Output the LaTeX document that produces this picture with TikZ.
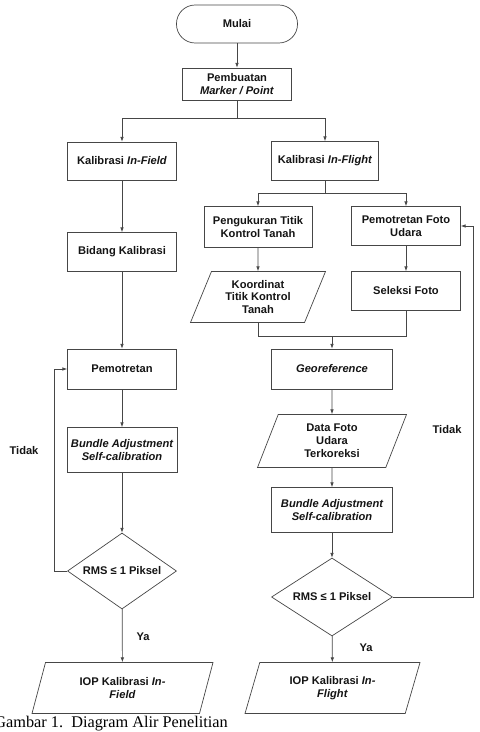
\documentclass[tikz,border=0pt]{standalone}
\usepackage{fontspec}
\setmainfont{Liberation Sans}
\newfontfamily\captionserif{Liberation Serif}
\usepackage{tikz}
\usetikzlibrary{positioning, arrows.meta, calc, shapes.geometric}
\definecolor{alirgaris}{RGB}{70,70,70}
\definecolor{alirteks}{RGB}{20,20,20}

\begin{document}
\begin{tikzpicture}[x=0.03cm, y=-0.03cm,
    every node/.style={font=\fontsize{9.5}{11}\selectfont\bfseries, text=alirteks, align=center},
    proses/.style={draw=alirgaris, line width=0.6pt, rectangle, inner sep=1pt, minimum width=3.27cm, minimum height=1.17cm},
    data/.style={draw=alirgaris, line width=0.6pt, trapezium, trapezium left angle=60, trapezium right angle=120, trapezium stretches body, inner sep=1pt, minimum height=1.53cm},
    keputusan/.style={draw=alirgaris, line width=0.6pt, diamond, shape aspect=1.43, inner sep=0pt},
    panah/.style={draw=alirgaris, line width=0.6pt, -{Latex[length=4pt, width=3pt]}},
    garis/.style={draw=alirgaris, line width=0.6pt}]
        \useasboundingbox (0,0) rectangle (480,732);
        % awal
        \node[draw=alirgaris, line width=0.6pt, rounded corners=0.56cm, minimum width=3.63cm, minimum height=1.14cm] (mulai) at (237,24) {Mulai};
        \node[proses, minimum height=0.96cm] (pembuatan) at (237,84) {Pembuatan\\ \textit{Marker / Point}};
        \coordinate (cabang1) at (237,118);
        \draw[panah] (mulai) -- (pembuatan);
        % jalur in-field
        \node[proses, minimum height=1.14cm] (infield) at (122,161) {Kalibrasi \textit{In-Field}};
        \node[proses] (bidang) at (122,252) {Bidang Kalibrasi};
        \node[proses, minimum height=1.2cm] (pemotretan) at (122,369) {Pemotretan};
        \node[proses, minimum width=3.3cm, minimum height=1.35cm, font=\fontsize{9.5}{11}\selectfont\bfseries\itshape] (ba1) at (122,450) {Bundle Adjustment\\Self-calibration};
        \node[keputusan, minimum width=3.27cm, minimum height=2.28cm] (rms1) at (122,571) {RMS ≤ 1 Piksel};
        \node[data, minimum width=5.43cm] (iop1) at (122.5,688) {IOP Kalibrasi \textit{In-}\\ \textit{Field}};
        \draw[panah] (pembuatan) -- (cabang1) -| (infield.north);
        \draw[panah] (infield) -- (bidang);
        \draw[panah] (bidang) -- (pemotretan);
        \draw[panah] (pemotretan) -- (ba1);
        \draw[panah] (ba1) -- (rms1);
        \draw[panah] (rms1) -- (iop1);
        \draw[panah] (rms1.west) -- ++(-13,0) |- (pemotretan.west);
        \node (tidak1) at (24,451) {Tidak};
        \node (ya1) at (143,637) {Ya};
        % jalur in-flight
        \node[proses, minimum width=3.21cm] (inflight) at (325,161) {Kalibrasi \textit{In-Flight}};
        \node[proses, minimum width=3.24cm, minimum height=1.23cm] (ukur) at (258,227) {Pengukuran Titik\\Kontrol Tanah};
        \node[proses] (foto) at (406,226) {Pemotretan Foto\\Udara};
        \node[data, minimum width=4.05cm] (koordinat) at (258,297) {Koordinat\\Titik Kontrol\\Tanah};
        \node[proses] (seleksi) at (406,291) {Seleksi Foto};
        \coordinate (gabung) at (332,336);
        \node[proses, minimum width=3.63cm, minimum height=1.2cm, font=\fontsize{9.5}{11}\selectfont\bfseries\itshape] (georef) at (332,369) {Georeference};
        \node[data, minimum width=4.47cm, minimum height=1.59cm] (datafoto) at (332,441) {Data Foto\\Udara\\Terkoreksi};
        \node[proses, minimum width=3.63cm, minimum height=1.35cm, font=\fontsize{9.5}{11}\selectfont\bfseries\itshape] (ba2) at (332,510) {Bundle Adjustment\\Self-calibration};
        \node[keputusan, minimum width=3.63cm, minimum height=2.34cm] (rms2) at (332,597) {RMS ≤ 1 Piksel};
        \node[data, minimum width=5.25cm] (iop2) at (332.5,688) {IOP Kalibrasi \textit{In-}\\ \textit{Flight}};
        \coordinate (cabang2) at (325,193);
        \draw[panah] (cabang1) -| (inflight.north);
        \draw[garis] (inflight) -- (cabang2);
        \draw[panah] (cabang2) -| (ukur.north);
        \draw[panah] (cabang2) -| (foto.north);
        \draw[panah] (ukur) -- (koordinat);
        \draw[panah] (foto) -- (seleksi);
        \draw[garis] (koordinat.south) |- (gabung);
        \draw[garis] (seleksi.south) |- (gabung);
        \draw[panah] (gabung) -- (georef);
        \draw[panah] (georef) -- (datafoto);
        \draw[panah] (datafoto) -- (ba2);
        \draw[panah] (ba2) -- (rms2);
        \draw[panah] (rms2) -- (iop2);
        \draw[panah] (rms2.east) -- ++(80,0) |- (foto.east);
        \node (tidak2) at (447,430) {Tidak};
        \node (ya2) at (366,648) {Ya};
        % keterangan
        \node[anchor=base east, inner sep=0pt, font=\captionserif\fontsize{13.9}{16}\selectfont, text=black] (judul) at (228,727) {Gambar 1.\ \ Diagram Alir Penelitian};
      \end{tikzpicture}
\end{document}
